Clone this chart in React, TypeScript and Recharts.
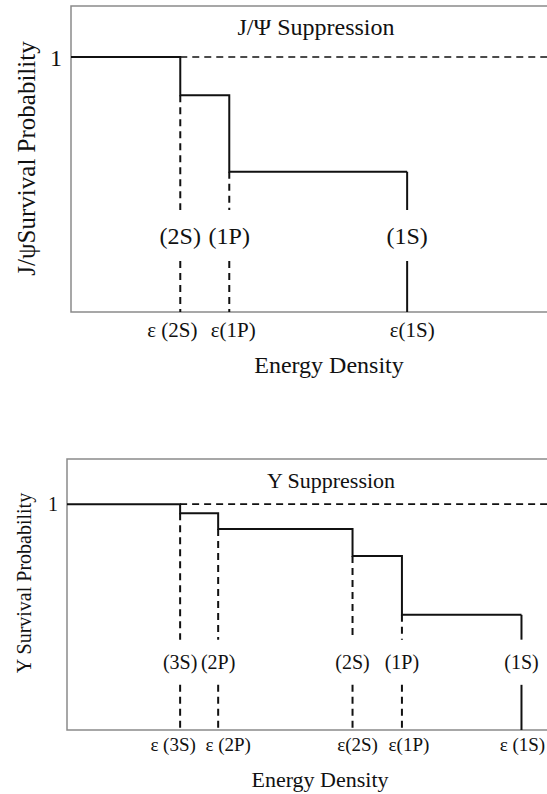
import React from "react";
import {
  ComposedChart,
  Line,
  XAxis,
  YAxis,
  ReferenceLine,
  ReferenceArea,
  ReferenceDot
} from "recharts";

const FONT = '"Liberation Serif", "Times New Roman", serif';
const INK = "#111";
const FRAME = "#8a8a8a";
const DASH = "7 5";

// J/psi panel
const psiStates = ["(2S)", "(1P)", "(1S)"];
const psiTicks = ["ε (2S)", "ε(1P)", "ε(1S)"];
const psiThresholds = [2.23, 3.23, 6.86];
const psiLevels = [0.85, 0.55, 0];

// Upsilon panel
const upsStates = ["(3S)", "(2P)", "(2S)", "(1P)", "(1S)"];
const upsTicks = ["ε (3S)", "ε (2P)", "ε(2S)", "ε(1P)", "ε (1S)"];
const upsThresholds = [2.29, 3.06, 5.78, 6.78, 9.2];
const upsLevels = [0.96, 0.89, 0.77, 0.51, 0];

const X_MAX = 10;
const Y_MAX = 1.2;
const LABEL_Y = 0.3;
const GAP = [0.2, 0.4];

type PanelProps = {
  states: string[];
  ticks: string[];
  thresholds: number[];
  levels: number[];
  tickShift: number[];
  width: number;
  height: number;
  top: number;
  yAxisWidth: number;
  xAxisHeight: number;
  font: number;
  tickFont: number;
  tickMargin: number;
};

function SuppressionPanel(p: PanelProps) {
  const n = p.thresholds.length;
  // step curve stops at the last threshold, the final drop is drawn separately
  const stepData = [
    { x: 0, y: 1 },
    ...p.thresholds.map((t, i) => ({ x: t, y: i === n - 1 ? p.levels[i - 1] : p.levels[i] }))
  ];

  const verticals = p.thresholds.flatMap((t, i) => {
    const last = i === n - 1;
    const from = last ? p.levels[i - 1] : p.levels[i];
    const dash = last ? undefined : DASH;
    return [
      <ReferenceLine
        key={`u${i}`}
        segment={[{ x: t, y: from }, { x: t, y: GAP[1] }]}
        stroke={INK}
        strokeWidth={2}
        strokeDasharray={dash}
      />,
      <ReferenceLine
        key={`l${i}`}
        segment={[{ x: t, y: GAP[0] }, { x: t, y: 0 }]}
        stroke={INK}
        strokeWidth={2}
        strokeDasharray={dash}
      />
    ];
  });

  const renderTick = (t: any) => {
    const i = p.thresholds.indexOf(t.payload.value);
    return (
      <text
        x={t.x + (p.tickShift[i] || 0)}
        y={t.y}
        dy="0.71em"
        textAnchor="middle"
        fontSize={p.tickFont}
        fontFamily={FONT}
        fill={INK}
      >
        {p.ticks[i]}
      </text>
    );
  };

  return (
    <ComposedChart
      width={p.width}
      height={p.height}
      data={stepData}
      margin={{ top: p.top, right: 0, bottom: 0, left: 0 }}
    >
      <XAxis
        dataKey="x"
        type="number"
        domain={[0, X_MAX]}
        ticks={p.thresholds}
        interval={0}
        tickLine={false}
        axisLine={false}
        tickSize={0}
        tickMargin={p.tickMargin}
        height={p.xAxisHeight}
        tick={renderTick}
      />
      <YAxis
        type="number"
        domain={[0, Y_MAX]}
        ticks={[1]}
        tickLine={false}
        axisLine={false}
        tickSize={0}
        tickMargin={9}
        width={p.yAxisWidth}
        tick={{ fontSize: p.font, fontFamily: FONT, fill: INK }}
      />
      <ReferenceArea
        x1={0}
        x2={X_MAX}
        y1={0}
        y2={Y_MAX}
        fill="none"
        stroke={FRAME}
        strokeWidth={1.5}
      />
      <ReferenceLine
        segment={[{ x: p.thresholds[0], y: 1 }, { x: X_MAX, y: 1 }]}
        stroke={INK}
        strokeWidth={1.6}
        strokeDasharray={DASH}
      />
      {verticals}
      {p.states.map((s, i) => (
        <ReferenceDot
          key={s + i}
          x={p.thresholds[i]}
          y={LABEL_Y}
          r={0}
          shape={(d: any) => (
            <text
              x={d.cx}
              y={d.cy}
              textAnchor="middle"
              dominantBaseline="central"
              fontSize={p.font}
              fontFamily={FONT}
              fill={INK}
            >
              {s}
            </text>
          )}
        />
      ))}
      <Line
        type="stepAfter"
        dataKey="y"
        stroke={INK}
        strokeWidth={2}
        dot={false}
        isAnimationActive={false}
      />
    </ComposedChart>
  );
}

function Caption({ text, cx, baseline, size }: { text: string; cx: number; baseline: number; size: number }) {
  return (
    <div
      style={{
        position: "absolute",
        left: cx - 150,
        top: baseline - 0.84 * size,
        width: 300,
        textAlign: "center",
        fontFamily: FONT,
        fontSize: size,
        lineHeight: 1,
        color: INK,
        whiteSpace: "nowrap"
      }}
    >
      {text}
    </div>
  );
}

function SideCaption({ text, cx, cy, size }: { text: string; cx: number; cy: number; size: number }) {
  return (
    <div
      style={{
        position: "absolute",
        left: cx - 200,
        top: cy - size / 2,
        width: 400,
        height: size,
        textAlign: "center",
        fontFamily: FONT,
        fontSize: size,
        lineHeight: 1,
        color: INK,
        whiteSpace: "nowrap",
        transform: "rotate(-90deg)",
        transformOrigin: "center"
      }}
    >
      {text}
    </div>
  );
}

export default function App() {
  return (
    <div
      style={{
        position: "absolute",
        left: 0,
        top: 0,
        width: 547,
        height: 794,
        overflow: "hidden",
        background: "#fff"
      }}
    >
      <div style={{ position: "absolute", left: 0, top: 0 }}>
        <SuppressionPanel
          states={psiStates}
          ticks={psiTicks}
          thresholds={psiThresholds}
          levels={psiLevels}
          tickShift={[-8, 4, 5]}
          width={561}
          height={400}
          top={6}
          yAxisWidth={71}
          xAxisHeight={88}
          font={24}
          tickFont={21}
          tickMargin={10}
        />
      </div>
      <Caption text="J/Ψ Suppression" cx={316} baseline={35} size={24} />
      <Caption text="Energy Density" cx={329} baseline={373} size={24} />
      <SideCaption text="J/ψSurvival Probability" cx={26} cy={158} size={25} />

      <div style={{ position: "absolute", left: 0, top: 440 }}>
        <SuppressionPanel
          states={upsStates}
          ticks={upsTicks}
          thresholds={upsThresholds}
          levels={upsLevels}
          tickShift={[-7, 10, 5, 7, 1]}
          width={561}
          height={354}
          top={19}
          yAxisWidth={67}
          xAxisHeight={64}
          font={20}
          tickFont={19}
          tickMargin={8}
        />
      </div>
      <Caption text="Y Suppression" cx={331} baseline={488} size={22} />
      <Caption text="Energy Density" cx={320} baseline={787} size={22} />
      <SideCaption text="Y Survival Probability" cx={24} cy={583} size={20} />
    </div>
  );
}
